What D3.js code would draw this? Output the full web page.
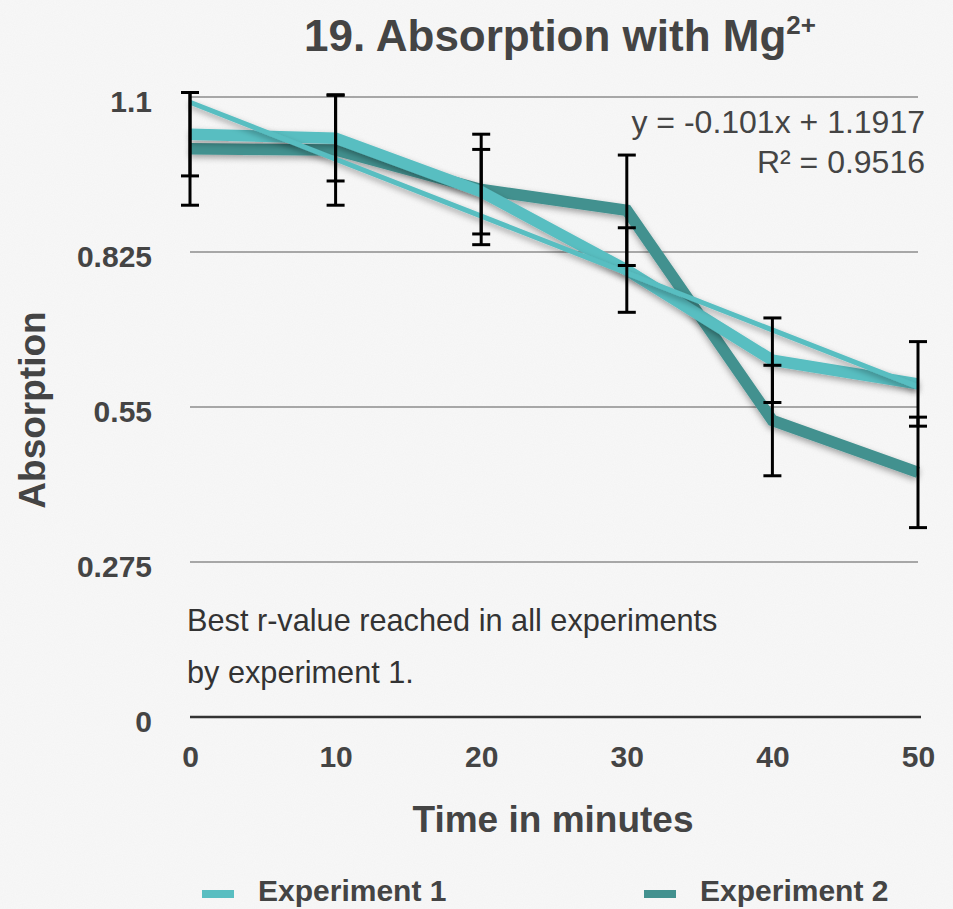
<!DOCTYPE html>
<html><head><meta charset="utf-8">
<script src="https://cdn.jsdelivr.net/npm/d3@7/dist/d3.min.js"></script>
<style>html,body{margin:0;padding:0;background:#f6f6f6;overflow:hidden}</style>
</head><body><svg id="chart" width="953" height="909"></svg>
<script>
// ---- data ----
const times = [0, 10, 20, 30, 40, 50];
const xTickLabels = ["0", "10", "20", "30", "40", "50"];
const yTicks = [0, 0.275, 0.55, 0.825, 1.1];
const yTickLabels = ["0", "0.275", "0.55", "0.825", "1.1"];
const exp1 = [1.034, 1.027, 0.932, 0.793, 0.633, 0.591];
const exp1Err = [0.074, 0.076, 0.075, 0.075, 0.075, 0.075];
const exp2 = [1.008, 1.006, 0.936, 0.899, 0.526, 0.434];
const exp2Err = [0.100, 0.098, 0.098, 0.098, 0.098, 0.098];
const seriesNames = ["Experiment 1", "Experiment 2"];
const trendSlope = -0.101, trendIntercept = 1.1917; // x = point index 1..6
const equationText = "y = -0.101x + 1.1917";
const r2Text = "R² = 0.9516";
const noteLines = ["Best r-value reached in all experiments", "by experiment 1."];

// ---- setup ----
const colors = ["#59bec1", "#43918f"];
const svg = d3.select("#chart");
const W = 953, H = 909;
const x = d3.scaleLinear().domain([0, 50]).range([190, 918]);
const y = d3.scaleLinear().domain([0, 1.1]).range([717, 97]);
const boldFont = "'Liberation Sans', Arial, sans-serif";
const lightFont = "'Liberation Sans', Arial, sans-serif";

const defs = svg.append("defs");
const tex = defs.append("filter").attr("id", "paper").attr("x", 0).attr("y", 0).attr("width", 1).attr("height", 1);
tex.append("feTurbulence").attr("type", "fractalNoise").attr("baseFrequency", 0.9).attr("numOctaves", 2).attr("seed", 3).attr("result", "n");
tex.append("feColorMatrix").attr("type", "matrix")
  .attr("values", "0 0 0 0 0.5  0 0 0 0 0.5  0 0 0 0 0.5  0 0 0 0.08 0");
const sh = defs.append("filter").attr("id", "shadow").attr("x", "-10%").attr("y", "-20%").attr("width", "120%").attr("height", "150%");
sh.append("feDropShadow").attr("dx", 0).attr("dy", 3).attr("stdDeviation", 3).attr("flood-color", "#000").attr("flood-opacity", 0.35);

svg.append("rect").attr("width", W).attr("height", H).attr("fill", "#f8f8f8");
svg.append("rect").attr("width", W).attr("height", H).attr("filter", "url(#paper)");

// gridlines
svg.append("g").selectAll("line").data(yTicks.filter(d => d > 0)).join("line")
  .attr("x1", x(0)).attr("x2", x(50)).attr("y1", d => y(d)).attr("y2", d => y(d))
  .attr("stroke", "#8c8c8c").attr("stroke-width", 1.3);
svg.append("line").attr("x1", x(0)).attr("x2", x(50) + 3).attr("y1", y(0)).attr("y2", y(0))
  .attr("stroke", "#333").attr("stroke-width", 2.6);

// axes (labels only)
const yAxis = svg.append("g").attr("transform", "translate(152,5)")
  .call(d3.axisLeft(y).tickValues(yTicks).tickFormat((d, i) => yTickLabels[i]).tickSize(0).tickPadding(0));
yAxis.select(".domain").remove();
yAxis.selectAll("text").attr("font-family", boldFont).attr("font-weight", "bold")
  .attr("font-size", 30).attr("fill", "#444");

const xAxis = svg.append("g").attr("transform", `translate(0,${y(0)})`)
  .call(d3.axisBottom(x).tickValues(times).tickFormat((d, i) => xTickLabels[i]).tickSize(0).tickPadding(29));
xAxis.select(".domain").remove();
xAxis.selectAll("text").attr("font-family", boldFont).attr("font-weight", "bold")
  .attr("font-size", 30).attr("fill", "#444");

// series lines
const line = d3.line().x((d, i) => x(times[i])).y(d => y(d));
[[exp2, 1], [exp1, 0]].forEach(([vals, ci]) => {
  svg.append("path").datum(vals).attr("d", line)
    .attr("fill", "none").attr("stroke", colors[ci]).attr("stroke-width", 11.5)
    .attr("stroke-linejoin", "miter").attr("filter", "url(#shadow)");
});

// trendline
const trendPts = [0, times.length - 1].map(i => ({ t: times[i], v: trendSlope * (i + 1) + trendIntercept }));
svg.append("line")
  .attr("x1", x(trendPts[0].t)).attr("y1", y(trendPts[0].v))
  .attr("x2", x(trendPts[1].t)).attr("y2", y(trendPts[1].v))
  .attr("stroke", colors[0]).attr("stroke-width", 5).attr("filter", "url(#shadow)");

// error bars
const eb = svg.append("g").attr("stroke", "#000").attr("stroke-width", 3);
[[exp1, exp1Err], [exp2, exp2Err]].forEach(([vals, errs]) => {
  vals.forEach((v, i) => {
    const cx = x(times[i]);
    eb.append("line").attr("x1", cx).attr("x2", cx).attr("y1", y(v + errs[i])).attr("y2", y(v - errs[i]));
    [v + errs[i], v - errs[i]].forEach(e => {
      eb.append("line").attr("x1", cx - 9).attr("x2", cx + 9).attr("y1", y(e)).attr("y2", y(e));
    });
  });
});

// equation
svg.append("text").attr("x", 925).attr("y", 133).attr("text-anchor", "end")
  .attr("font-family", lightFont).attr("font-size", 32).attr("fill", "#444").text(equationText);
svg.append("text").attr("x", 925).attr("y", 173).attr("text-anchor", "end")
  .attr("font-family", lightFont).attr("font-size", 32).attr("fill", "#444").text(r2Text);

// note
noteLines.forEach((t, i) => {
  svg.append("text").attr("x", 187).attr("y", 631 + i * 52)
    .attr("font-family", lightFont).attr("font-size", 30.7).attr("fill", "#333").text(t);
});

// title
const title = svg.append("text").attr("x", 560).attr("y", 51).attr("text-anchor", "middle")
  .attr("font-family", boldFont).attr("font-weight", "bold")
  .attr("font-size", 44).attr("fill", "#444");
title.append("tspan").text("19. Absorption with Mg");
title.append("tspan").attr("font-size", 26).attr("dy", -17).text("2+");

// axis titles
svg.append("text").attr("x", 553).attr("y", 832).attr("text-anchor", "middle")
  .attr("font-family", boldFont).attr("font-weight", "bold")
  .attr("font-size", 37).attr("fill", "#444").text("Time in minutes");
svg.append("text").attr("transform", "translate(45,410) rotate(-90)").attr("text-anchor", "middle")
  .attr("font-family", boldFont).attr("font-weight", "bold")
  .attr("font-size", 37).attr("fill", "#444").text("Absorption");

// legend
const legendX = [202, 644];
seriesNames.forEach((n, i) => {
  svg.append("rect").attr("x", legendX[i]).attr("y", 890).attr("width", 32).attr("height", 8).attr("fill", colors[i]);
  svg.append("text").attr("x", legendX[i] + 56).attr("y", 901)
    .attr("font-family", boldFont).attr("font-weight", "bold")
    .attr("font-size", 30).attr("fill", "#444").text(n);
});
</script></body></html>
